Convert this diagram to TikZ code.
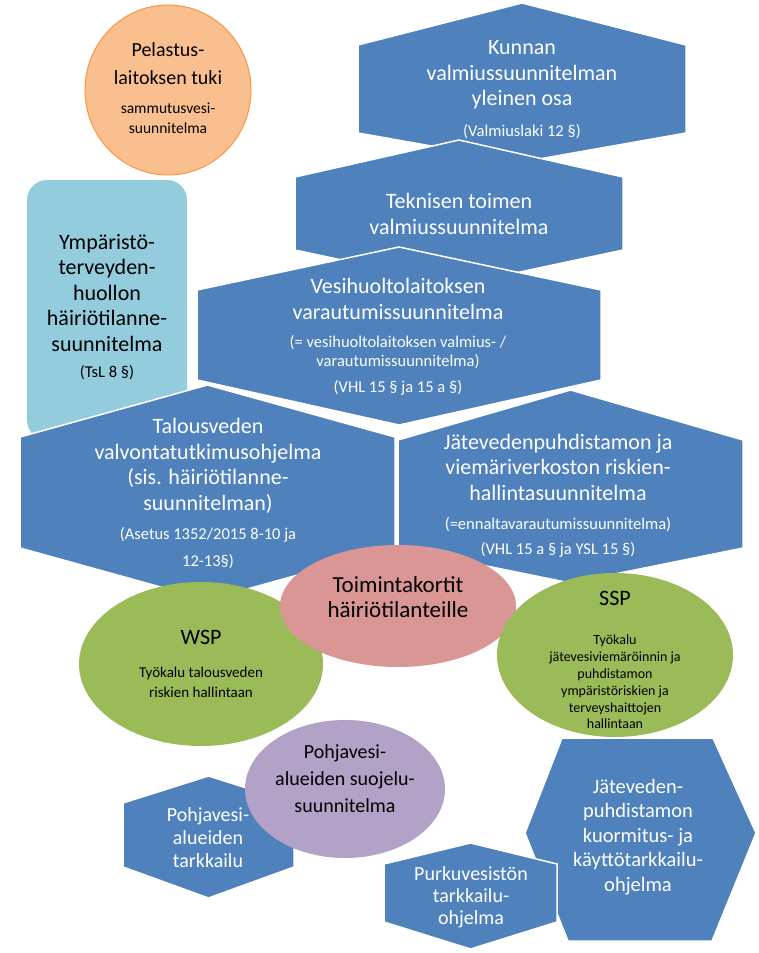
\documentclass[tikz,border=0pt]{standalone}
\usepackage{fontspec}
\setmainfont{Carlito}
\definecolor{hexblue}{RGB}{79,129,189}
\definecolor{orangefill}{RGB}{250,191,143}
\definecolor{orangeline}{RGB}{247,150,70}
\definecolor{pinkfill}{RGB}{217,150,148}
\definecolor{greenfill}{RGB}{155,187,89}
\definecolor{purplefill}{RGB}{179,162,199}
\definecolor{skyfill}{RGB}{147,205,221}
% vertical hexagon: left, right, top apex, shoulder, shoulder, bottom apex
\newcommand{\hexplan}[6]{%
  \filldraw[hexbox] (#1,#4) -- ({(#1+#2)/2},#3) -- (#2,#4) -- (#2,#5)
    -- ({(#1+#2)/2},#6) -- (#1,#5) -- cycle;}
\tikzset{
  hexbox/.style={fill=hexblue, draw=white, line width=1.5pt},
  bigtext/.style={align=center, text=white, font=\fontsize{22}{25.5}\selectfont},
  smalltext/.style={align=center, text=white, font=\fontsize{16.5}{25}\selectfont},
  darktext/.style={align=center, text=black, font=\fontsize{22}{25.5}\selectfont},
  darksmall/.style={align=center, text=black, font=\fontsize{15}{20}\selectfont},
}
\begin{document}
\begin{tikzpicture}[x=1pt, y=-1pt]
    \useasboundingbox (0,0) rectangle (759,953);
    % Top
    \filldraw[fill=orangefill, draw=orangeline, line width=1pt] (168,90) ellipse (83 and 85);
    \node[darktext, font=\fontsize{20}{28}\selectfont] (rescue) at (168,64) {Pelastus-\\laitoksen tuki};
    \node[darksmall, font=\fontsize{15.5}{20}\selectfont] (extinguish) at (168,118) {sammutusvesi-\\suunnitelma};
    \hexplan{358}{686}{3}{45}{133}{162}
    \node[bigtext] (municipal) at (522,75) {Kunnan\\valmiussuunnitelman\\yleinen osa};
    \node[smalltext] (municipallaw) at (522,132) {(Valmiuslaki 12 §)};
    \hexplan{295}{623}{140}{177}{250}{285}
    \node[bigtext] (technical) at (459,214) {Teknisen toimen\\valmiussuunnitelma};
    \hexplan{197}{601}{247}{290}{380}{425}
    \node[bigtext] (utility) at (398,299) {Vesihuoltolaitoksen\\varautumissuunnitelma};
    \node[smalltext, font=\fontsize{16.5}{19}\selectfont] (utilitynote) at (398,352) {(= vesihuoltolaitoksen valmius- /\\varautumissuunnitelma)};
    \node[smalltext] (utilitylaw) at (398,388) {(VHL 15 § ja 15 a §)};
    % Left box
    \fill[skyfill, rounded corners=20pt] (27,180) rectangle (187,440);
    \node[darktext] (environment) at (107,293) {Ympäristö-\\terveyden-\\huollon\\häiriötilanne-\\suunnitelma};
    \node[darktext, font=\fontsize{16.5}{20}\selectfont] (envlaw) at (107,373) {(TsL 8 §)};
    % Middle row
    \hexplan{20}{395}{385}{437}{548}{600}
    \node[bigtext] (drinking) at (208,466) {Talousveden\\valvontatutkimusohjelma\\(sis. häiriötilanne-\\suunnitelman)};
    \node[smalltext, font=\fontsize{16.5}{27}\selectfont] (drinkinglaw) at (208,548) {(Asetus 1352/2015 8-10 ja\\12-13§)};
    \hexplan{398}{743}{390}{440}{548}{583}
    \node[bigtext] (sewer) at (558,467) {Jätevedenpuhdistamon ja\\viemäriverkoston riskien-\\hallintasuunnitelma};
    \node[smalltext] (sewernote) at (558,537) {(=ennaltavarautumissuunnitelma)\\(VHL 15 a § ja YSL 15 §)};
    % Ellipses
    \fill[greenfill] (201,664) ellipse (122 and 82);
    \node[darktext] (wsp) at (201,637) {WSP};
    \node[darksmall] (wspnote) at (201,682) {Työkalu talousveden\\riskien hallintaan};
    \fill[pinkfill] (398,606) ellipse (118 and 61);
    \node[darktext, font=\fontsize{23}{25}\selectfont] (cards) at (398,597) {Toimintakortit\\häiriötilanteille};
    \fill[greenfill] (615,655) ellipse (118 and 82);
    \node[darktext] (ssp) at (615,598) {SSP};
    \node[darksmall, font=\fontsize{14}{16.8}\selectfont] (sspnote) at (615,682) {Työkalu\\jätevesiviemäröinnin ja\\puhdistamon\\ympäristöriskien ja\\terveyshaittojen\\hallintaan};
    % Bottom
    \hexplan{123}{294}{776}{803}{867}{898}
    \node[bigtext, font=\fontsize{20}{23}\selectfont] (groundmon) at (208,838) {Pohjavesi-\\alueiden\\tarkkailu};
    \fill[purplefill] (345,789) ellipse (100 and 69);
    \node[darktext, font=\fontsize{20}{27}\selectfont] (groundplan) at (345,779) {Pohjavesi-\\alueiden suojelu-\\suunnitelma};
    \filldraw[hexbox] (562,738) -- (713,738) -- (756,833) -- (712,941) -- (568,941) -- (525,833) -- cycle;
    \node[bigtext, font=\fontsize{20.5}{24.5}\selectfont] (plantmon) at (638,837) {Jäteveden-\\puhdistamon\\kuormitus- ja\\käyttötarkkailu-\\ohjelma};
    \hexplan{384}{557}{843}{864}{922}{949}
    \node[bigtext, font=\fontsize{20}{22}\selectfont] (recipient) at (471,897) {Purkuvesistön\\tarkkailu-\\ohjelma};
\end{tikzpicture}
\end{document}
